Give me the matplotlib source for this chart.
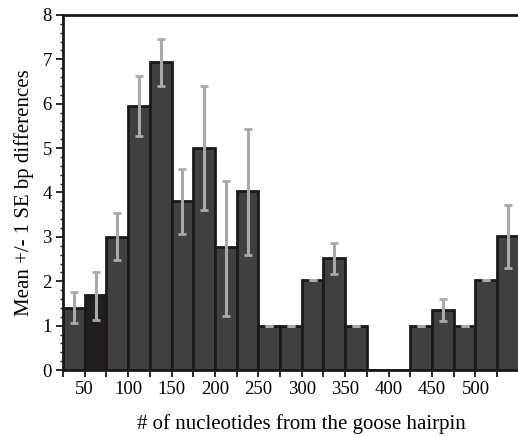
import numpy as np
import matplotlib.pyplot as plt

plt.rcParams.update({'font.family': 'Liberation Serif'})

# bin left edges (nucleotides) and bar heights
bin_left = [25, 50, 75, 100, 125, 150, 175, 200, 225, 250, 275,
            300, 325, 350, 375, 400, 425, 450, 475, 500, 525]
means = [1.40, 1.70, 3.00, 5.95, 6.95, 3.80, 5.00, 2.77, 4.03, 1.00, 1.00,
         2.02, 2.52, 1.00, 0.00, 0.00, 1.00, 1.35, 1.00, 2.02, 3.02]
err_low = [1.05, 1.13, 2.48, 5.27, 6.40, 3.07, 3.60, 1.22, 2.60, 1.00, 1.00,
           2.02, 2.17, 1.00, np.nan, np.nan, 1.00, 1.10, 1.00, 2.02, 2.30]
err_high = [1.75, 2.20, 3.53, 6.62, 7.47, 4.53, 6.40, 4.27, 5.42, 1.00, 1.00,
            2.02, 2.87, 1.00, np.nan, np.nan, 1.00, 1.60, 1.00, 2.02, 3.72]

x_labels = [50, 100, 150, 200, 250, 300, 350, 400, 450, 500]

means = np.array(means)
lo = means - np.array(err_low)
hi = np.array(err_high) - means
centers = np.array(bin_left) + 12.5

colors = ['#404040'] * len(means)
colors[1] = '#231f20'

fig = plt.figure(figsize=(5.18, 4.37), dpi=100)
ax = fig.add_axes([0.1216, 0.1533, 0.8784, 0.8124])

ax.bar(bin_left, means, width=25, align='edge', color=colors,
       edgecolor='#1a1a1a', linewidth=2, zorder=2)
ok = ~np.isnan(lo)
ax.errorbar(centers[ok], means[ok], yerr=[lo[ok], hi[ok]], fmt='none',
            ecolor='#aaaaaa', elinewidth=2.2, capsize=3, capthick=2, zorder=3)

ax.set_xlim(25, 549)
ax.set_ylim(0, 8)

ax.set_xticks(np.arange(25, 550, 25))
ax.set_xticklabels([str(v) if v in x_labels else '' for v in range(25, 550, 25)],
                   fontsize=13.5)
ax.set_yticks(range(0, 9))
ax.set_yticklabels([str(v) for v in range(0, 9)], fontsize=13.5)
ax.set_yticks(np.arange(0, 8.01, 0.2), minor=True)

ax.tick_params(which='major', length=5, width=1.3, color='#1a1a1a', pad=3)
ax.tick_params(axis='y', which='minor', length=2.5, width=1, color='#1a1a1a')

for s in ['left', 'bottom', 'top']:
    ax.spines[s].set_linewidth(2)
    ax.spines[s].set_color('#1a1a1a')
ax.spines['right'].set_visible(False)

ax.set_ylabel('Mean +/- 1 SE bp differences', fontsize=15, labelpad=6)
ax.set_xlabel('# of nucleotides from the goose hairpin', fontsize=15)
ax.xaxis.set_label_coords(0.525, -0.125)

plt.savefig('out.png', dpi=100)
